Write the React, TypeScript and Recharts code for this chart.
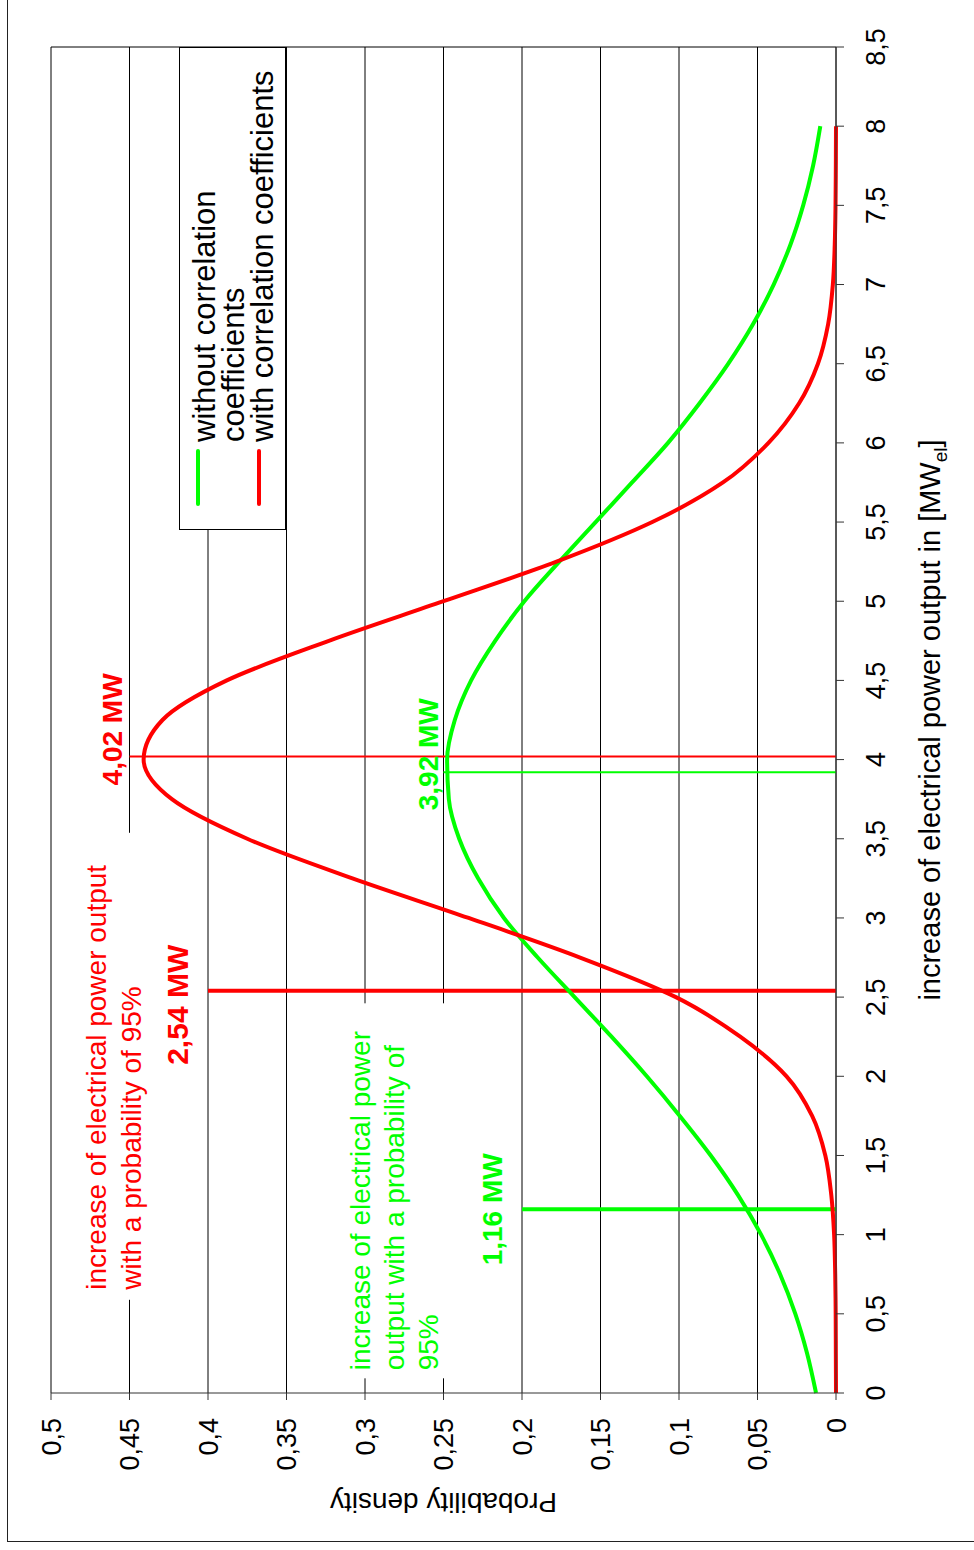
import React from "react";
import {
  CartesianGrid,
  Legend,
  Line,
  LineChart,
  ReferenceLine,
  XAxis,
  YAxis,
} from "recharts";

// increase of electrical power output [MW el]
const power = [
  0, 0.25, 0.5, 0.75, 1, 1.25, 1.5, 1.75, 2, 2.25, 2.5, 2.75, 3, 3.25, 3.5, 3.75,
  4, 4.25, 4.5, 4.75, 5, 5.25, 5.5, 5.75, 6, 6.25, 6.5, 6.75, 7, 7.25, 7.5, 7.75, 8,
];

// probability density, without correlation coefficients (green)
const withoutCorr = [
  0.0127, 0.0184, 0.0259, 0.0356, 0.0477, 0.0624, 0.0798, 0.0995, 0.1205, 0.143,
  0.1665, 0.19, 0.2115, 0.228, 0.24, 0.2466, 0.2477, 0.2428, 0.2324, 0.2171, 0.1985,
  0.1762, 0.1531, 0.1299, 0.107, 0.0869, 0.0686, 0.0528, 0.0397, 0.0291, 0.0209,
  0.0146, 0.01,
];

// probability density, with correlation coefficients (red)
const withCorr = [
  0, 0.0001, 0.0002, 0.0005, 0.0012, 0.003, 0.0068, 0.0152, 0.0315, 0.061, 0.102,
  0.163, 0.234, 0.308, 0.375, 0.423, 0.441, 0.429, 0.388, 0.323, 0.25, 0.178, 0.117,
  0.072, 0.043, 0.0235, 0.0115, 0.005, 0.002, 0.0008, 0.0003, 0.0001, 0,
];

const powerTicks = [0, 0.5, 1, 1.5, 2, 2.5, 3, 3.5, 4, 4.5, 5, 5.5, 6, 6.5, 7, 7.5, 8, 8.5];
const densityTicks = [0, 0.05, 0.1, 0.15, 0.2, 0.25, 0.3, 0.35, 0.4, 0.45, 0.5];

// marked values: [power, height of the marker line]
const modeWith = [4.02, 0.45];
const modeWithout = [3.92, 0.25];
const q95With = [2.54, 0.4];
const q95Without = [1.16, 0.2];

const legendOrder = ["without", "with"];
const legendLines: Record<string, string[]> = {
  without: ["without correlation", "coefficients"],
  with: ["with correlation coefficients"],
};

const data = power.map((p, i) => ({ p, without: withoutCorr[i], with: withCorr[i] }));

const FONT = '"Liberation Sans", Arial, Helvetica, sans-serif';
const RED = "#ff0000";
const GREEN = "#00ff00";

const fmt = (v: number) => String(Math.round(v * 100) / 100).replace(".", ",");

function ModeWithLabel({ viewBox }: any) {
  const { x, y } = viewBox;
  return (
    <text x={x - 29} y={y - 8} fill={RED} fontSize={28} fontWeight="bold" fontFamily={FONT}>
      {fmt(modeWith[0])} MW
    </text>
  );
}

function ModeWithoutLabel({ viewBox }: any) {
  const { x, y } = viewBox;
  return (
    <text x={x - 38} y={y - 6} fill={GREEN} fontSize={28} fontWeight="bold" fontFamily={FONT}>
      {fmt(modeWithout[0])} MW
    </text>
  );
}

function Q95WithLabel({ viewBox }: any) {
  const { x, y } = viewBox;
  return (
    <g fontFamily={FONT}>
      <rect x={x - 309} y={y - 130} width={467} height={72} fill="#fff" />
      <text x={x - 299} y={y - 102} fill={RED} fontSize={28}>
        increase of electrical power output
      </text>
      <text x={x - 299} y={y - 67} fill={RED} fontSize={28}>
        with a probability of 95%
      </text>
      <text x={x - 14} y={y - 20} fill={RED} fontSize={30} fontWeight="bold" textAnchor="middle">
        {fmt(q95With[0])} MW
      </text>
    </g>
  );
}

function Q95WithoutLabel({ viewBox }: any) {
  const { x, y } = viewBox;
  return (
    <g fontFamily={FONT}>
      <rect x={x - 169} y={y - 182} width={375} height={110} fill="#fff" />
      <text x={x - 161} y={y - 152} fill={GREEN} fontSize={28}>
        increase of electrical power
      </text>
      <text x={x - 161} y={y - 118} fill={GREEN} fontSize={28}>
        output with a probability of
      </text>
      <text x={x - 161} y={y - 84} fill={GREEN} fontSize={28}>
        95%
      </text>
      <text x={x} y={y - 20} fill={GREEN} fontSize={28} fontWeight="bold" textAnchor="middle">
        {fmt(q95Without[0])} MW
      </text>
    </g>
  );
}

function PowerAxisLabel({ viewBox }: any) {
  const { x, y, width } = viewBox;
  return (
    <text x={x + width / 2} y={y + 104} textAnchor="middle" fontSize={29} fill="#000" fontFamily={FONT}>
      increase of electrical power output in [MW
      <tspan fontSize={19} dy={7}>
        el
      </tspan>
      <tspan dy={-7}>]</tspan>
    </text>
  );
}

function DensityAxisLabel({ viewBox }: any) {
  const { y, height } = viewBox;
  const cy = y + height / 2;
  return (
    <text
      x={57}
      y={cy}
      transform={`rotate(-90, 57, ${cy})`}
      textAnchor="middle"
      fontSize={28}
      fill="#000"
      fontFamily={FONT}
    >
      Probability density
    </text>
  );
}

function LegendBox({ payload }: any) {
  const items = ((payload || []) as any[])
    .slice()
    .sort((a, b) => legendOrder.indexOf(a.dataKey) - legendOrder.indexOf(b.dataKey));
  const baselines = [35, 64, 93];
  let row = 0;
  return (
    <div
      style={{
        width: 483,
        height: 107,
        background: "#fff",
        border: "1px solid #000",
        boxSizing: "border-box",
      }}
    >
      <svg width={481} height={105} style={{ display: "block" }} fontFamily={FONT}>
        {items.map((it) => {
          const lines = legendLines[it.dataKey] || [String(it.value)];
          const top = row;
          row += lines.length;
          const markY = 18 + top * 30.5;
          return (
            <g key={it.dataKey}>
              <line
                x1={25}
                x2={78}
                y1={markY}
                y2={markY}
                stroke={it.color}
                strokeWidth={4}
                strokeLinecap="round"
              />
              {lines.map((t, j) => (
                <text key={t} x={87} y={baselines[top + j]} fontSize={31} fill="#000">
                  {t}
                </text>
              ))}
            </g>
          );
        })}
      </svg>
    </div>
  );
}

export default function App() {
  return (
    <div
      style={{
        position: "absolute",
        left: 0,
        top: 0,
        width: 974,
        height: 1550,
        overflow: "hidden",
        background: "#fff",
        fontFamily: FONT,
      }}
    >
      <div
        style={{
          position: "absolute",
          left: 0,
          top: 0,
          width: 1550,
          height: 974,
          transformOrigin: "0 0",
          transform: "translate(0px, 1550px) rotate(-90deg)",
        }}
      >
        <div
          style={{
            position: "absolute",
            left: 8,
            top: 7,
            width: 1600,
            height: 1000,
            borderLeft: "1px solid #222",
            borderTop: "1px solid #222",
          }}
        />
        <LineChart
          width={1550}
          height={974}
          data={data}
          margin={{ top: 51, right: 47, left: 97, bottom: 78 }}
          style={{ fontFamily: FONT }}
        >
          <CartesianGrid vertical={false} stroke="#000" strokeWidth={1} />
          <XAxis
            type="number"
            dataKey="p"
            domain={[0, 8.5]}
            ticks={powerTicks}
            tickFormatter={fmt}
            height={60}
            tickSize={8}
            tickMargin={22}
            stroke="#333"
            tick={{ fontSize: 27, fill: "#000", fontFamily: FONT }}
            label={(props: any) => <PowerAxisLabel {...props} />}
          />
          <YAxis
            type="number"
            domain={[0, 0.5]}
            ticks={densityTicks}
            tickFormatter={fmt}
            width={60}
            tickSize={7}
            tickMargin={18}
            stroke="#333"
            tick={{ fontSize: 27, fill: "#000", fontFamily: FONT }}
            label={(props: any) => <DensityAxisLabel {...props} />}
          />
          <ReferenceLine x={8.5} stroke="#000" strokeWidth={1} />
          <ReferenceLine
            segment={[
              { x: q95With[0], y: 0 },
              { x: q95With[0], y: q95With[1] },
            ]}
            stroke={RED}
            strokeWidth={4}
            label={(props: any) => <Q95WithLabel {...props} />}
          />
          <ReferenceLine
            segment={[
              { x: q95Without[0], y: 0 },
              { x: q95Without[0], y: q95Without[1] },
            ]}
            stroke={GREEN}
            strokeWidth={4}
            label={(props: any) => <Q95WithoutLabel {...props} />}
          />
          <ReferenceLine
            segment={[
              { x: modeWith[0], y: 0 },
              { x: modeWith[0], y: modeWith[1] },
            ]}
            stroke={RED}
            strokeWidth={2}
            label={(props: any) => <ModeWithLabel {...props} />}
          />
          <ReferenceLine
            segment={[
              { x: modeWithout[0], y: 0 },
              { x: modeWithout[0], y: modeWithout[1] },
            ]}
            stroke={GREEN}
            strokeWidth={2}
            label={(props: any) => <ModeWithoutLabel {...props} />}
          />
          <Line
            type="monotone"
            dataKey="without"
            name="without correlation coefficients"
            stroke={GREEN}
            strokeWidth={4}
            dot={false}
            isAnimationActive={false}
          />
          <Line
            type="monotone"
            dataKey="with"
            name="with correlation coefficients"
            stroke={RED}
            strokeWidth={4}
            dot={false}
            isAnimationActive={false}
          />
          <Legend
            layout="horizontal"
            align="center"
            verticalAlign="middle"
            content={(props: any) => <LegendBox {...props} />}
            wrapperStyle={{ left: 1020, top: 179, width: 483, height: 107 }}
          />
        </LineChart>
      </div>
    </div>
  );
}
